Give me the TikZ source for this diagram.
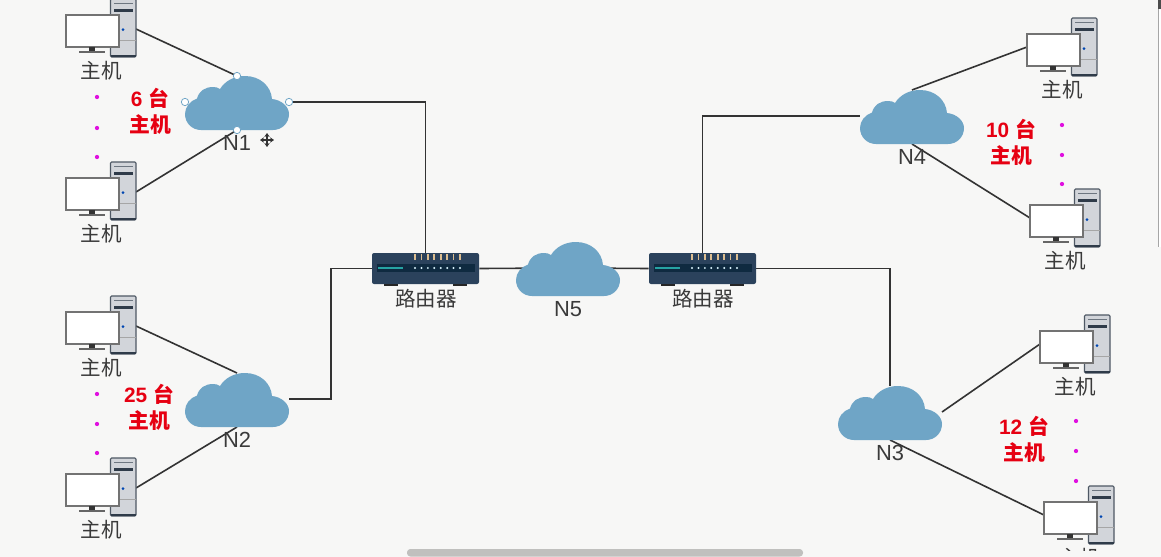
\documentclass[tikz,border=0pt]{standalone}
\usepackage{fontspec}
\setmainfont{Noto Sans CJK SC}
\newfontfamily\latinfont{Liberation Sans}
\usetikzlibrary{positioning}
\usetikzlibrary{backgrounds}
\usetikzlibrary{arrows.meta}
\definecolor{pagebg}{HTML}{F7F7F6}
\definecolor{cloudblue}{HTML}{6FA5C6}
\definecolor{linegrey}{HTML}{333333}
\definecolor{textgrey}{HTML}{3A3A3A}
\definecolor{towergrey}{HTML}{D2D5DA}
\definecolor{towerdark}{HTML}{2F3B49}
\definecolor{routerblue}{HTML}{2B425C}
\definecolor{routerband}{HTML}{0F2A40}
\definecolor{ledamber}{HTML}{DDBE90}
\definecolor{countred}{HTML}{E60012}
\definecolor{dotmagenta}{HTML}{E010E0}
\definecolor{barlight}{HTML}{C0C0BE}
\tikzset{
  netlabel/.style={text=textgrey,font=\fontsize{15.4pt}{18pt}\selectfont,inner sep=0pt},
  netname/.style={text=textgrey,font=\fontsize{16.4pt}{18pt}\selectfont\latinfont,inner sep=0pt},
  countlabel/.style={text=countred,align=center,inner sep=0pt,
    font=\fontsize{15.6pt}{19.5pt}\selectfont\bfseries},
  link/.style={draw=linegrey,line width=1.2pt},
  handle/.style={circle,draw=cloudblue,fill=white,line width=0.6pt,inner sep=0pt,minimum size=5.5pt},
  morehost/.style={circle,fill=dotmagenta,inner sep=0pt,minimum size=3.2pt},
  pics/cloud/.style={code={
    \fill[cloudblue] (16,54) .. controls (7,54) and (0,47) .. (0,38)
      .. controls (0,31) and (5,25) .. (12,22.5)
      .. controls (14,15) and (20,11) .. (28,11)
      .. controls (31,11) and (33,11.5) .. (35,13)
      .. controls (40,5) and (49,0) .. (60,0)
      .. controls (75,0) and (86,10) .. (87,23)
      .. controls (97,24) and (104,31) .. (104,38)
      .. controls (104,47) and (97,54) .. (88,54) -- cycle;
    \coordinate (-c) at (52,26);
    \coordinate (-n) at (52,0);
    \coordinate (-s) at (52,54);
    \coordinate (-w) at (0,26);
    \coordinate (-e) at (104,26);
    \node[netname] (-label) at (52,67) {#1};
  }},
  pics/host/.style={code={
    \filldraw[fill=towergrey,draw=towerdark!85,line width=0.8pt,rounded corners=0.8pt] (44.5,-16) rectangle (70,42);
    \draw[towerdark,line width=1.6pt] (45,41.3) -- (69.5,41.3);
    \draw[towerdark!70,line width=0.9pt] (48,-11.3) -- (67,-11.3);
    \fill[towerdark] (48,-6) rectangle (67,-3);
    \draw[gray!70,line width=0.5pt] (45,25.3) -- (69.5,25.3);
    \fill[blue!60!cyan!70!black] (57,14.7) circle (1.5);
    \node[draw=black!55,fill=white,line width=0.85pt,inner sep=0pt,
      minimum width=39.75pt,minimum height=24pt] (-screen) at (26.5,16) {};
    \fill[black!80] (23,32) rectangle (29,37);
    \draw[black!60,line width=0.9pt] (13,37) -- (39,37);
    \coordinate (-e) at (70,14);
    \coordinate (-w) at (0,13);
    \node[netlabel] (-label) at (35,56) {主机};
  }},
  pics/router/.style={code={
    \node[fill=routerblue,rounded corners=1.5pt,inner sep=0pt,
      minimum width=80.25pt,minimum height=23.25pt] (-body) at (53.5,15.5) {};
    \fill[routerband] (5,11) rectangle (103,18.7);
    \fill[teal!60!cyan!70!gray] (6,14) rectangle (31,16);
    \fill[black!85] (12,31) rectangle (26,32.5);
    \fill[black!85] (81,31) rectangle (95,32.5);
    \foreach \i in {0,...,7} {
      \fill[ledamber] (43+6.43*\i-0.9,1.3) rectangle (43+6.43*\i+0.9,7);
      \fill[white!85!cyan] (43+6.43*\i,15) circle (1.1);
    }
    \node[netlabel] (-label) at (54,46) {路由器};
  }},
}

\begin{document}
\begin{tikzpicture}[x=0.75pt,y=-0.75pt]
\path[use as bounding box] (0,0) rectangle (1161,557);

\pic (h1) at (66,15) {host};
\pic (h2) at (66,178) {host};
\pic (h3) at (66,312) {host};
\pic (h4) at (66,474) {host};
\pic (h5) at (1027,34) {host};
\pic (h6) at (1030,205) {host};
\pic (h7) at (1040,331) {host};
% only the top of this label shows
\begin{scope}
\clip (1000,480) rectangle (1161,550);
\pic (h8) at (1044,502) {host};
\end{scope}

\pic (n1) at (185,76) {cloud=N1};
\pic (n2) at (185,373) {cloud=N2};
\pic (n3) at (838,386) {cloud=N3};
\pic (n4) at (860,90) {cloud=N4};
\pic (n5) at (516,242) {cloud=N5};

\pic (r1) at (372,253) {router};
\pic (r2) at (649,253) {router};

% selected cloud
\node[handle] (hn) at (n1-n) {};
\node[handle] (hs) at (n1-s) {};
\node[handle] (hw) at (n1-w) {};
\node[handle] (he) at (n1-e) {};
\coordinate (cursor) at (267,140);
\draw[{Stealth[length=3pt,width=4pt]}-{Stealth[length=3pt,width=4pt]},line width=0.9pt,black!80] (cursor) +(-7,0) -- +(7,0);
\draw[{Stealth[length=3pt,width=4pt]}-{Stealth[length=3pt,width=4pt]},line width=0.9pt,black!80] (cursor) +(0,-7) -- +(0,7);

\node[countlabel] (c1) at (150,111) {{\latinfont 6 }台\\主机};
\node[countlabel] (c2) at (149,407) {{\latinfont 25 }台\\主机};
\node[countlabel] (c3) at (1024,439) {{\latinfont 12 }台\\主机};
\node[countlabel] (c4) at (1011,142) {{\latinfont 10 }台\\主机};

\foreach \x/\y in {97/97,97/128,97/157,97/394,97/424,97/453,1062/125,1062/155,1062/184,1076/421,1076/451,1076/481}
  \node[morehost] at (\x,\y) {};

\begin{scope}[on background layer]
\fill[pagebg] (0,0) rectangle (1161,557);
\fill[barlight,rounded corners=2.5pt] (407,549) rectangle (803,556.5);
\fill[white] (1159,0) rectangle (1161,247);
\fill[black!35] (1158,0) rectangle (1159.2,247);
\fill[black!70] (1158,0) rectangle (1161,9);
\draw[link] (h1-e) -- (n1-n);
\draw[link] (h2-e) -- (n1-s);
\draw[link] (h3-e) -- (n2-n);
\draw[link] (h4-e) -- (n2-s);
\draw[link] (n4-n) -- (h5-w);
\draw[link] (n4-s) -- (h6-w);
\draw[link] (n3-e) -- (h7-w);
\draw[link] (n3-s) -- (h8-w);
\draw[link] (n1-e) -| (r1-body.north);
\draw[link] (n2-e) -- ++(42,0) |- (r1-body.west);
\draw[link] (r1-body.east) -- (n5-c);
\draw[link] (n5-c) -- (r2-body.west);
\draw[link] (r2-body.north) |- (n4-w);
\draw[link] (r2-body.east) -| (n3-n);
\end{scope}
\end{tikzpicture}
\end{document}
